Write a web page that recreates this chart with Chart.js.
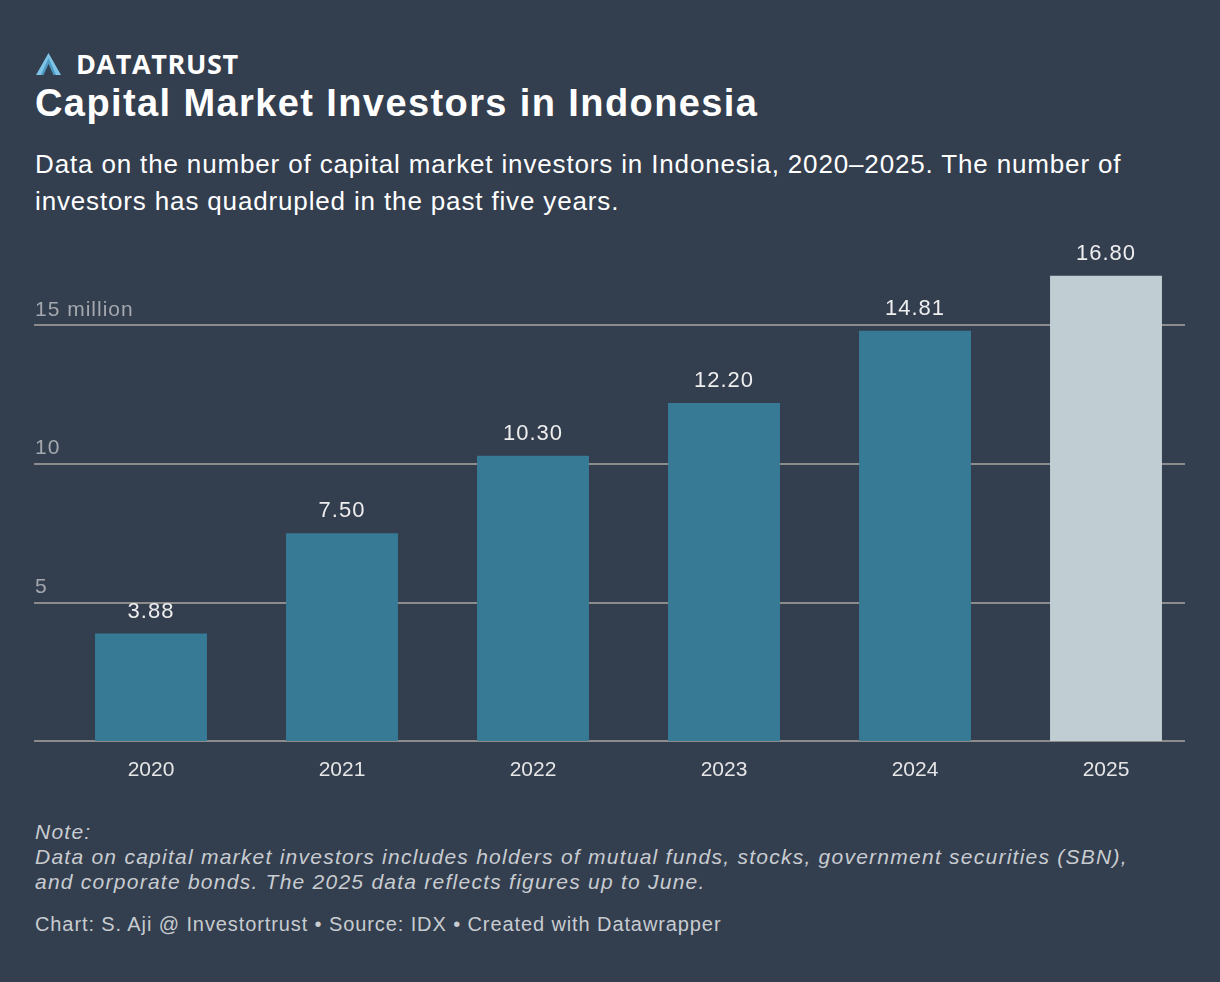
<!DOCTYPE html>
<html>
<head>
<meta charset="utf-8">
<script src="https://cdn.jsdelivr.net/npm/chart.js@4"></script>
<style>
  html, body { margin: 0; padding: 0; }
  body {
    width: 1220px; height: 982px; background: #333e4f;
    font-family: "Liberation Sans", Arial, sans-serif; position: relative; overflow: hidden;
  }
  .brand {
    position: absolute; left: 36px; top: 45px; color: #fff;
    font-family: "Open Sans", sans-serif; font-weight: 700; font-size: 27px; letter-spacing: 0.6px;
    display: flex; align-items: center;
  }
  .brand svg { margin-right: 15px; }
  h1 {
    position: absolute; left: 35px; top: 82px; margin: 0; color: #fff;
    font-size: 38px; font-weight: 700; letter-spacing: 1.4px;
  }
  .sub {
    position: absolute; left: 35px; top: 146px; margin: 0; white-space: nowrap;
    color: #fff; font-size: 26px; line-height: 37px; letter-spacing: 0.85px;
  }
  .chartbox { position: absolute; left: 0; top: 230px; width: 1220px; height: 571px; }
  .note {
    position: absolute; left: 35px; top: 819px; color: #c8ccd0; font-style: italic;
    font-size: 21px; line-height: 25px; letter-spacing: 1.25px; white-space: nowrap;
  }
  .foot { position: absolute; left: 35px; top: 913px; color: #c8ccd0; font-size: 20px; letter-spacing: 0.9px; }
</style>
</head>
<body>
<div class="brand">
  <svg width="25" height="22" viewBox="0 0 25 22">
    <path d="M12.5 0 L25 22 L19.5 22 L12.5 9 L5.5 22 L0 22 Z" fill="#7fc4e6"/>
    <path d="M12.5 5 L20 22 L17.5 22 L12.5 11 L7.5 22 L5 22 Z" fill="#4d9ac4"/>
  </svg>
  DATATRUST
</div>
<h1>Capital Market Investors in Indonesia</h1>
<p class="sub">Data on the number of capital market investors in Indonesia, 2020–2025. The number of<br>investors has quadrupled in the past five years.</p>
<div class="chartbox"><canvas id="chart"></canvas></div>
<div class="note">Note:<br>Data on capital market investors includes holders of mutual funds, stocks, government securities (SBN),<br>and corporate bonds. The 2025 data reflects figures up to June.</div>
<div class="foot">Chart: S. Aji @ Investortrust • Source: IDX • Created with Datawrapper</div>

<script>
const years = ['2020', '2021', '2022', '2023', '2024', '2025'];
const investors = [3.88, 7.50, 10.30, 12.20, 14.81, 16.80]; // million
const yTicks = [5, 10, 15];
const yTickLabels = ['5', '10', '15 million'];

const barColors = years.map(y => y === '2025' ? '#c0cdd2' : '#377a96');

// gridlines + y labels drawn across the full width, value labels above bars
const overlay = {
  id: 'overlay',
  beforeDatasetsDraw(chart) {
    const ctx = chart.ctx;
    const y = chart.scales.y;
    ctx.save();
    ctx.strokeStyle = '#8c8c8c';
    ctx.lineWidth = 2;
    ctx.font = '21px "Liberation Sans", Arial, sans-serif';
    ctx.letterSpacing = '1px';
    ctx.fillStyle = '#a4a8ae';
    ctx.textBaseline = 'alphabetic';
    [0].concat(yTicks).forEach(v => {
      const py = Math.round(y.getPixelForValue(v));
      ctx.beginPath();
      ctx.moveTo(34, py);
      ctx.lineTo(1185, py);
      ctx.stroke();
    });
    yTicks.forEach((v, i) => {
      ctx.fillText(yTickLabels[i], 35, y.getPixelForValue(v) - 10);
    });
    ctx.restore();
  },
  afterDatasetsDraw(chart) {
    const ctx = chart.ctx;
    const meta = chart.getDatasetMeta(0);
    ctx.save();
    ctx.font = '22px "Liberation Sans", Arial, sans-serif';
    ctx.letterSpacing = '1px';
    ctx.fillStyle = '#eeeeee';
    ctx.textAlign = 'center';
    ctx.textBaseline = 'alphabetic';
    meta.data.forEach((bar, i) => {
      ctx.fillText(investors[i].toFixed(2), bar.x, bar.y - 16);
    });
    ctx.restore();
  }
};

new Chart(document.getElementById('chart'), {
  type: 'bar',
  data: {
    labels: years,
    datasets: [{
      data: investors,
      backgroundColor: barColors,
      categoryPercentage: 1,
      barPercentage: 0.586
    }]
  },
  options: {
    responsive: true,
    maintainAspectRatio: false,
    animation: false,
    layout: { padding: { left: 55.5, right: 18.5, top: 12.4, bottom: 0 } },
    plugins: { legend: { display: false }, tooltip: { enabled: false } },
    scales: {
      x: {
        grid: { display: false, drawTicks: false },
        border: { display: false },
        ticks: { color: '#e6e6e6', font: { family: '"Liberation Sans", Arial, sans-serif', size: 21 }, padding: 17 },
        afterFit(scale) { scale.height = 60; }
      },
      y: { display: false, min: 0, max: 18 }
    }
  },
  plugins: [overlay]
});
</script>
</body>
</html>
